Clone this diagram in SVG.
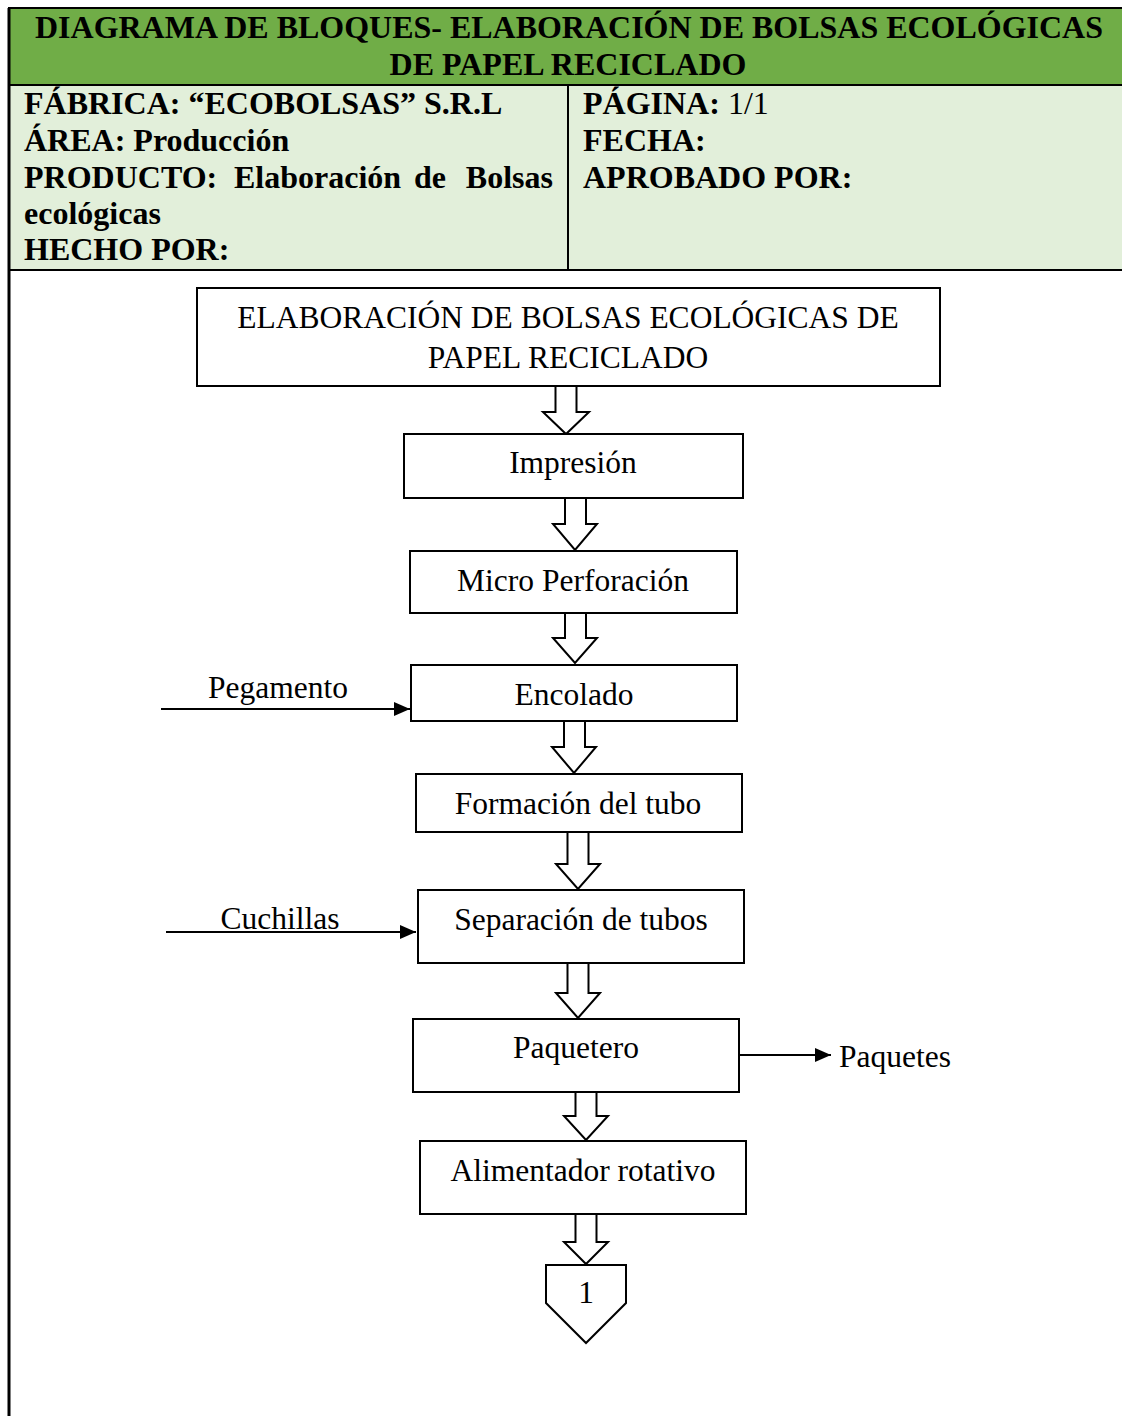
<svg xmlns="http://www.w3.org/2000/svg" width="1122" height="1416" viewBox="0 0 1122 1416">
<style>
.hb{font-family:"Liberation Serif","Times New Roman",serif;font-weight:bold;font-size:32px;fill:#000}
.hn{font-weight:normal}
.t{font-family:"Liberation Serif","Times New Roman",serif;font-size:31.5px;fill:#000}
.box{fill:#fff;stroke:#000;stroke-width:2}
.ha{fill:#fff;stroke:#000;stroke-width:2;stroke-linejoin:miter}
.ln{stroke:#000;stroke-width:2;fill:none}
</style>
<defs>
<marker id="ah" markerWidth="10" markerHeight="10" refX="9" refY="5" orient="auto" markerUnits="userSpaceOnUse" viewBox="0 0 10 10">
<path d="M0,0 L10,5 L0,10 Z" fill="#000"/>
</marker>
<marker id="ahb" markerWidth="16" markerHeight="14" refX="16" refY="7" orient="auto" markerUnits="userSpaceOnUse">
<path d="M0,0 L16,7 L0,14 Z" fill="#000"/>
</marker>
</defs>
<rect width="1122" height="1416" fill="#fff"/>
<g id="header">
<rect x="9" y="8" width="1115" height="77" fill="#70AD47" stroke="#000" stroke-width="2"/>
<rect x="9" y="85" width="1115" height="185" fill="#E2EFDA" stroke="#000" stroke-width="2"/>
<line x1="568" y1="85" x2="568" y2="270" stroke="#000" stroke-width="2"/>
<line x1="9" y1="8" x2="9" y2="1416" stroke="#000" stroke-width="3"/>
<text class="hb" x="569" y="38" text-anchor="middle" textLength="1068" lengthAdjust="spacingAndGlyphs">DIAGRAMA DE BLOQUES- ELABORACIÓN DE BOLSAS ECOLÓGICAS</text>
<text class="hb" x="568" y="75" text-anchor="middle">DE PAPEL RECICLADO</text>
<text class="hb" x="24" y="114">FÁBRICA: “ECOBOLSAS” S.R.L</text>
<text class="hb" x="24" y="151">ÁREA: Producción</text>
<text class="hb" x="24" y="188">PRODUCTO:</text>
<text class="hb" x="234" y="188">Elaboración</text>
<text class="hb" x="414" y="188">de</text>
<text class="hb" x="553" y="188" text-anchor="end">Bolsas</text>
<text class="hb" x="24" y="224">ecológicas</text>
<text class="hb" x="24" y="260">HECHO POR:</text>
<text class="hb" x="583" y="114">PÁGINA:<tspan class="hn"> 1/1</tspan></text>
<text class="hb" x="583" y="151">FECHA:</text>
<text class="hb" x="583" y="188">APROBADO POR:</text>
</g>
<g id="connectors">
<path class="ha" d="M555.5,386 V412 H543 L566,434 L589,412 H576.5 V386"/>
<path class="ha" d="M565,498 V524 H553 L575,550 L597,524 H586 V498"/>
<path class="ha" d="M565,613 V638 H553 L575,663 L597,638 H586 V613"/>
<path class="ha" d="M564,721 V747 H552 L574,773 L596,747 H585 V721"/>
<path class="ha" d="M567.5,832 V864 H556 L578,889 L600,864 H588.5 V832"/>
<path class="ha" d="M567.5,963 V993 H556 L578,1018 L600,993 H588.5 V963"/>
<path class="ha" d="M575.5,1092 V1116 H564 L586,1140 L608,1116 H596.5 V1092"/>
<path class="ha" d="M575.5,1214 V1242 H564 L586,1264 L608,1242 H596.5 V1214"/>
<line class="ln" x1="161" y1="709" x2="410" y2="709" marker-end="url(#ahb)"/>
<line class="ln" x1="166" y1="932" x2="416" y2="932" marker-end="url(#ahb)"/>
<line class="ln" x1="740" y1="1055" x2="831" y2="1055" marker-end="url(#ahb)"/>
<text class="t" x="278" y="698" text-anchor="middle">Pegamento</text>
<text class="t" x="280" y="929" text-anchor="middle">Cuchillas</text>
<text class="t" x="839" y="1067">Paquetes</text>
</g>
<g id="n0">
<rect class="box" x="197" y="288" width="743" height="98"/>
<text class="t" x="568" y="328" text-anchor="middle" font-size="32">ELABORACIÓN DE BOLSAS ECOLÓGICAS DE</text>
<text class="t" x="568" y="368" text-anchor="middle" font-size="32">PAPEL RECICLADO</text>
</g>
<g id="n1">
<rect class="box" x="404" y="434" width="339" height="64"/>
<text class="t" x="573" y="473" text-anchor="middle">Impresión</text>
</g>
<g id="n2">
<rect class="box" x="410" y="551" width="327" height="62"/>
<text class="t" x="573" y="591" text-anchor="middle">Micro Perforación</text>
</g>
<g id="n3">
<rect class="box" x="411" y="665" width="326" height="56"/>
<text class="t" x="574" y="705" text-anchor="middle">Encolado</text>
</g>
<g id="n4">
<rect class="box" x="416" y="774" width="326" height="58"/>
<text class="t" x="578" y="814" text-anchor="middle">Formación del tubo</text>
</g>
<g id="n5">
<rect class="box" x="418" y="890" width="326" height="73"/>
<text class="t" x="581" y="930" text-anchor="middle">Separación de tubos</text>
</g>
<g id="n6">
<rect class="box" x="413" y="1019" width="326" height="73"/>
<text class="t" x="576" y="1058" text-anchor="middle">Paquetero</text>
</g>
<g id="n7">
<rect class="box" x="420" y="1141" width="326" height="73"/>
<text class="t" x="583" y="1181" text-anchor="middle">Alimentador rotativo</text>
</g>
<g id="n8">
<path class="box" d="M546,1265 H626 V1303 L586,1343 L546,1303 Z"/>
<text class="t" x="586" y="1303" text-anchor="middle">1</text>
</g>
</svg>
